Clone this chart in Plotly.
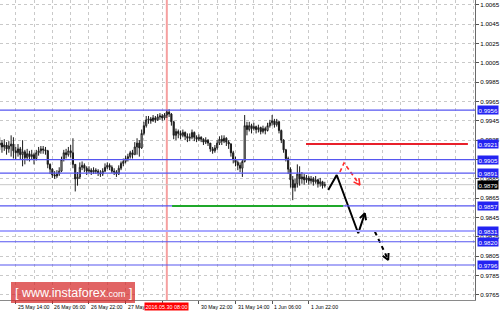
import math
import plotly.graph_objects as go

# ---------------- data (hourly bars, index 0 = 25 May 14:00) ----------------
bar_index = list(range(-7, 136))

close = [0.9922, 0.9918, 0.9920, 0.9916, 0.9919, 0.9921, 0.9914,
         0.9912, 0.9916, 0.9910, 0.9913, 0.9907, 0.9911, 0.9908, 0.9910, 0.9906, 0.9912,
         0.9914, 0.9916, 0.9915, 0.9914, 0.9900, 0.9895, 0.9889, 0.9888, 0.9890, 0.9893,
         0.9905, 0.9912, 0.9910, 0.9914, 0.9912, 0.9900, 0.9885, 0.9887, 0.9897, 0.9899,
         0.9896, 0.9893, 0.9894, 0.9892, 0.9894, 0.9893, 0.9891, 0.9890, 0.9893, 0.9897,
         0.9899, 0.9897, 0.9893, 0.9892, 0.9890, 0.9896, 0.9901, 0.9903, 0.9906, 0.9908,
         0.9912, 0.9910, 0.9918, 0.9922, 0.9917, 0.9932, 0.9940, 0.9946, 0.9947, 0.9945,
         0.9948, 0.9946, 0.9949, 0.9950, 0.9948, 0.9951, 0.9954, 0.9952, 0.9944, 0.9930,
         0.9934, 0.9932, 0.9930, 0.9933, 0.9929, 0.9927, 0.9928, 0.9933, 0.9928, 0.9926,
         0.9928, 0.9926, 0.9923, 0.9925, 0.9922, 0.9916, 0.9914, 0.9917, 0.9922, 0.9926,
         0.9924, 0.9927, 0.9923, 0.9921, 0.9912, 0.9905, 0.9902, 0.9899, 0.9896, 0.9903,
         0.9940, 0.9936, 0.9940, 0.9937, 0.9939, 0.9936, 0.9938, 0.9934, 0.9937, 0.9935,
         0.9940, 0.9943, 0.9945, 0.9941, 0.9944, 0.9935, 0.9925, 0.9915, 0.9906, 0.9895,
         0.9884, 0.9876, 0.9880, 0.9890, 0.9885, 0.9887, 0.9884, 0.9886, 0.9883, 0.9885,
         0.9882, 0.9884, 0.9880, 0.9882, 0.9878, 0.9879]

high = [0.9928, 0.9925, 0.9926, 0.9923, 0.9924, 0.9930, 0.9928,
        0.9918, 0.9921, 0.9918, 0.9925, 0.9915, 0.9916, 0.9914, 0.9915, 0.9912, 0.9915,
        0.9918, 0.9919, 0.9919, 0.9918, 0.9915, 0.9901, 0.9896, 0.9893, 0.9894, 0.9897,
        0.9908, 0.9915, 0.9916, 0.9918, 0.9920, 0.9927, 0.9900, 0.9892, 0.9902, 0.9903,
        0.9901, 0.9898, 0.9898, 0.9896, 0.9897, 0.9896, 0.9895, 0.9894, 0.9896, 0.9901,
        0.9902, 0.9901, 0.9899, 0.9896, 0.9894, 0.9899, 0.9903, 0.9906, 0.9909, 0.9911,
        0.9914, 0.9915, 0.9923, 0.9927, 0.9925, 0.9936, 0.9944, 0.9950, 0.9950, 0.9949,
        0.9951, 0.9950, 0.9952, 0.9953, 0.9952, 0.9953, 0.9956, 0.9957, 0.9953, 0.9945,
        0.9937, 0.9936, 0.9935, 0.9936, 0.9934, 0.9932, 0.9932, 0.9936, 0.9934, 0.9930,
        0.9931, 0.9929, 0.9927, 0.9928, 0.9926, 0.9922, 0.9918, 0.9920, 0.9925, 0.9929,
        0.9930, 0.9930, 0.9928, 0.9925, 0.9922, 0.9914, 0.9908, 0.9904, 0.9902, 0.9905,
        0.9951, 0.9944, 0.9944, 0.9942, 0.9943, 0.9940, 0.9941, 0.9939, 0.9940, 0.9939,
        0.9943, 0.9946, 0.9951, 0.9947, 0.9947, 0.9945, 0.9936, 0.9926, 0.9916, 0.9908,
        0.9897, 0.9888, 0.9885, 0.9900, 0.9898, 0.9892, 0.9890, 0.9889, 0.9888, 0.9888,
        0.9887, 0.9888, 0.9885, 0.9886, 0.9883, 0.9882]

low = [0.9915, 0.9912, 0.9914, 0.9910, 0.9912, 0.9908, 0.9906,
       0.9905, 0.9908, 0.9905, 0.9898, 0.9900, 0.9904, 0.9903, 0.9905, 0.9900, 0.9904,
       0.9909, 0.9911, 0.9911, 0.9910, 0.9896, 0.9890, 0.9886, 0.9885, 0.9886, 0.9888,
       0.9892, 0.9903, 0.9906, 0.9908, 0.9907, 0.9896, 0.9872, 0.9878, 0.9885, 0.9894,
       0.9892, 0.9889, 0.9891, 0.9889, 0.9890, 0.9890, 0.9888, 0.9887, 0.9888, 0.9892,
       0.9895, 0.9894, 0.9891, 0.9889, 0.9887, 0.9889, 0.9894, 0.9898, 0.9901, 0.9903,
       0.9906, 0.9906, 0.9910, 0.9910, 0.9908, 0.9916, 0.9930, 0.9938, 0.9942, 0.9942,
       0.9944, 0.9943, 0.9945, 0.9946, 0.9945, 0.9946, 0.9948, 0.9949, 0.9940, 0.9926,
       0.9925, 0.9927, 0.9926, 0.9928, 0.9925, 0.9923, 0.9924, 0.9926, 0.9924, 0.9923,
       0.9924, 0.9923, 0.9920, 0.9921, 0.9919, 0.9913, 0.9911, 0.9912, 0.9915, 0.9920,
       0.9920, 0.9922, 0.9919, 0.9916, 0.9908, 0.9901, 0.9898, 0.9894, 0.9892, 0.9887,
       0.9902, 0.9930, 0.9934, 0.9932, 0.9935, 0.9932, 0.9933, 0.9931, 0.9932, 0.9931,
       0.9934, 0.9938, 0.9940, 0.9938, 0.9939, 0.9932, 0.9922, 0.9912, 0.9903, 0.9890,
       0.9876, 0.9863, 0.9872, 0.9876, 0.9878, 0.9880, 0.9879, 0.9881, 0.9879, 0.9880,
       0.9878, 0.9880, 0.9876, 0.9877, 0.9875, 0.9876]

first_open = 0.9920
open_ = [first_open] + close[:-1]

y_tick_values = [1.0065, 1.0045, 1.0025, 1.0005, 0.9985, 0.9965, 0.9945, 0.9925,
                 0.9905, 0.9885, 0.9865, 0.9845, 0.9825, 0.9805, 0.9785, 0.9765]

blue_levels = [0.9956, 0.9905, 0.9891, 0.9857, 0.9820, 0.9796]
light_blue_levels = [0.9831]
box_levels = [0.9956, 0.9921, 0.9905, 0.9891, 0.9857, 0.9831, 0.9820, 0.9796]
current_price = 0.9879

red_level = 0.9921
red_level_bars = [126.8, 197.5]
green_level = 0.9857
green_level_bars = [68.3, 143.0]

marker_bar = 66
marker_label = "2016.05.30 08:00"

date_tick_bars = [-16, 0, 16, 32, 48, 80, 96, 112, 128]
date_tick_labels = ["24 May 22:00", "25 May 14:00", "26 May 06:00", "26 May 22:00",
                    "27 May 14:00", "30 May 22:00", "31 May 14:00", "1 Jun 06:00",
                    "1 Jun 22:00"]

black_path_bars = [136.5, 140.2, 149.6, 152.5]
black_path_prices = [0.98735, 0.98890, 0.98288, 0.98494]
black_dash_bars = [156.9, 162.7]
black_dash_prices = [0.98304, 0.98012]
red_dash_bars = [141.6, 143.4, 150.3]
red_dash_prices = [0.98921, 0.99014, 0.98787]

X_RANGE = [-6.86, 200.6]
Y_RANGE = [0.97598, 1.00699]

W, H = 500, 313
M_L, M_R, M_T, M_B = 0, 25, 0, 13
PW = W - M_L - M_R
PH = H - M_T - M_B
sx = PW / (X_RANGE[1] - X_RANGE[0])
sy = PH / (Y_RANGE[1] - Y_RANGE[0])


def arrow_head(xs, ys, length=7.0, angle=28):
    """Open V arrowhead at the last point, computed in pixel space."""
    x1, y1 = xs[-2] * sx, -ys[-2] * sy
    x2, y2 = xs[-1] * sx, -ys[-1] * sy
    a = math.atan2(y2 - y1, x2 - x1)
    hx, hy = [], []
    for s in (1, -1):
        b = a + math.pi - s * math.radians(angle)
        px = x2 + length * math.cos(b)
        py = y2 + length * math.sin(b)
        hx.append(px / sx)
        hy.append(-py / sy)
    return [hx[0], xs[-1], hx[1]], [hy[0], ys[-1], hy[1]]


fig = go.Figure()

fig.add_trace(go.Candlestick(
    x=bar_index, open=open_, high=high, low=low, close=close,
    increasing=dict(line=dict(color="#1a1a1a", width=1), fillcolor="#ffffff"),
    decreasing=dict(line=dict(color="#1a1a1a", width=1), fillcolor="#1a1a1a"),
    whiskerwidth=0, showlegend=False, hoverinfo="skip"))

# forecast arrows
fig.add_trace(go.Scatter(x=black_path_bars, y=black_path_prices, mode="lines",
                         line=dict(color="#000000", width=2), showlegend=False,
                         hoverinfo="skip"))
hx, hy = arrow_head(black_path_bars, black_path_prices)
fig.add_trace(go.Scatter(x=hx, y=hy, mode="lines", line=dict(color="#000000", width=2),
                         showlegend=False, hoverinfo="skip"))

fig.add_trace(go.Scatter(x=black_dash_bars, y=black_dash_prices, mode="lines",
                         line=dict(color="#000000", width=2, dash="4px,4px"),
                         showlegend=False, hoverinfo="skip"))
hx, hy = arrow_head(black_dash_bars, black_dash_prices)
fig.add_trace(go.Scatter(x=hx, y=hy, mode="lines", line=dict(color="#000000", width=2),
                         showlegend=False, hoverinfo="skip"))

fig.add_trace(go.Scatter(x=red_dash_bars, y=red_dash_prices, mode="lines",
                         line=dict(color="#ff2a2a", width=1.6, dash="4px,3px"),
                         showlegend=False, hoverinfo="skip"))
hx, hy = arrow_head(red_dash_bars, red_dash_prices)
fig.add_trace(go.Scatter(x=hx, y=hy, mode="lines", line=dict(color="#ff2a2a", width=1.6),
                         showlegend=False, hoverinfo="skip"))

shapes = []
# vertical marker line
shapes.append(dict(type="line", xref="x", yref="paper", x0=marker_bar, x1=marker_bar,
                   y0=0, y1=1, line=dict(color="#f6a0a0", width=2), layer="below"))
# current price line
shapes.append(dict(type="line", xref="paper", yref="y", x0=0, x1=1,
                   y0=current_price, y1=current_price,
                   line=dict(color="#c8c8c8", width=1), layer="below"))
for lv in blue_levels:
    shapes.append(dict(type="line", xref="paper", yref="y", x0=0, x1=1, y0=lv, y1=lv,
                       line=dict(color="#5656f0", width=1.2)))
for lv in light_blue_levels:
    shapes.append(dict(type="line", xref="paper", yref="y", x0=0, x1=1, y0=lv, y1=lv,
                       line=dict(color="#a8a8ff", width=2)))
shapes.append(dict(type="line", xref="x", yref="y", x0=red_level_bars[0],
                   x1=red_level_bars[1], y0=red_level, y1=red_level,
                   line=dict(color="#e8202a", width=2)))
shapes.append(dict(type="line", xref="x", yref="y", x0=green_level_bars[0],
                   x1=green_level_bars[1], y0=green_level, y1=green_level,
                   line=dict(color="#1fa82a", width=2)))
# watermark box
shapes.append(dict(type="rect", xref="paper", yref="paper",
                   x0=11 / PW, x1=135 / PW, y0=(PH - 303) / PH, y1=(PH - 282) / PH,
                   fillcolor="rgba(214,40,40,0.72)", line=dict(width=0)))

annotations = []
for lv in box_levels:
    annotations.append(dict(xref="paper", yref="y", x=1, y=lv, xanchor="left",
                            yanchor="middle", xshift=2, showarrow=False,
                            text=f"{lv:.4f}", bgcolor="#2323f2", borderpad=0.5,
                            font=dict(family="Liberation Sans", size=6.2, color="#ffffff")))
annotations.append(dict(xref="paper", yref="y", x=1, y=current_price, xanchor="left",
                        yanchor="middle", xshift=2, showarrow=False,
                        text=f"{current_price:.4f}", bgcolor="#000000", borderpad=0.5,
                        font=dict(family="Liberation Sans", size=6.2, color="#ffffff")))
for b, t in zip(date_tick_bars, date_tick_labels):
    annotations.append(dict(xref="x", yref="paper", x=b, y=0, xanchor="left",
                            yanchor="top", yshift=-2, showarrow=False, text=t,
                            font=dict(family="Liberation Sans", size=5.2, color="#000000")))
annotations.append(dict(xref="x", yref="paper", x=marker_bar, y=0, xanchor="center",
                        yanchor="top", yshift=-2, showarrow=False, text=marker_label,
                        bgcolor="#ff0000", borderpad=0.5,
                        font=dict(family="Liberation Sans", size=5.4, color="#ffffff")))
annotations.append(dict(xref="paper", yref="paper", x=73 / PW, y=(PH - 292.5) / PH,
                        xanchor="center", yanchor="middle", showarrow=False,
                        text="[ www.instaforex<span style='font-size:9px'>.com</span> ]",
                        font=dict(family="Liberation Sans", size=12.5, color="#ffffff")))

# tick labels hidden where a level box sits on exactly the same price
tick_text = ["" if any(abs(v - b) < 1e-6 for b in box_levels) else f"{v:.4f}"
             for v in y_tick_values]

fig.update_layout(
    width=W, height=H,
    margin=dict(l=M_L, r=M_R, t=M_T, b=M_B, pad=0),
    paper_bgcolor="#ffffff", plot_bgcolor="#ffffff",
    showlegend=False,
    shapes=shapes, annotations=annotations,
    xaxis=dict(range=X_RANGE, rangeslider=dict(visible=False), showticklabels=False,
               tickmode="array", tickvals=date_tick_bars + [64], ticks="outside",
               ticklen=3, tickcolor="#555555",
               showgrid=True, gridcolor="#c9c9c9", griddash="dot", gridwidth=1,
               minor=dict(tickmode="array",
                          tickvals=[b + 8 for b in date_tick_bars] + [56, 72, 144, 152,
                                                                      160, 168, 176, 184,
                                                                      192, 200, 136],
                          showgrid=True, gridcolor="#c9c9c9", griddash="dot"),
               showline=True, linecolor="#8a8a8a", linewidth=1, zeroline=False,
               fixedrange=True),
    yaxis=dict(range=Y_RANGE, side="right", tickmode="array", tickvals=y_tick_values,
               ticktext=tick_text, ticks="outside",
               ticklen=3, tickcolor="#555555",
               tickfont=dict(family="Liberation Sans", size=6.2, color="#000000"),
               showgrid=True, gridcolor="#c9c9c9", griddash="dot", gridwidth=1,
               showline=True, linecolor="#6a6a6a", linewidth=1, zeroline=False,
               fixedrange=True),
)

fig.write_html("out.html")
